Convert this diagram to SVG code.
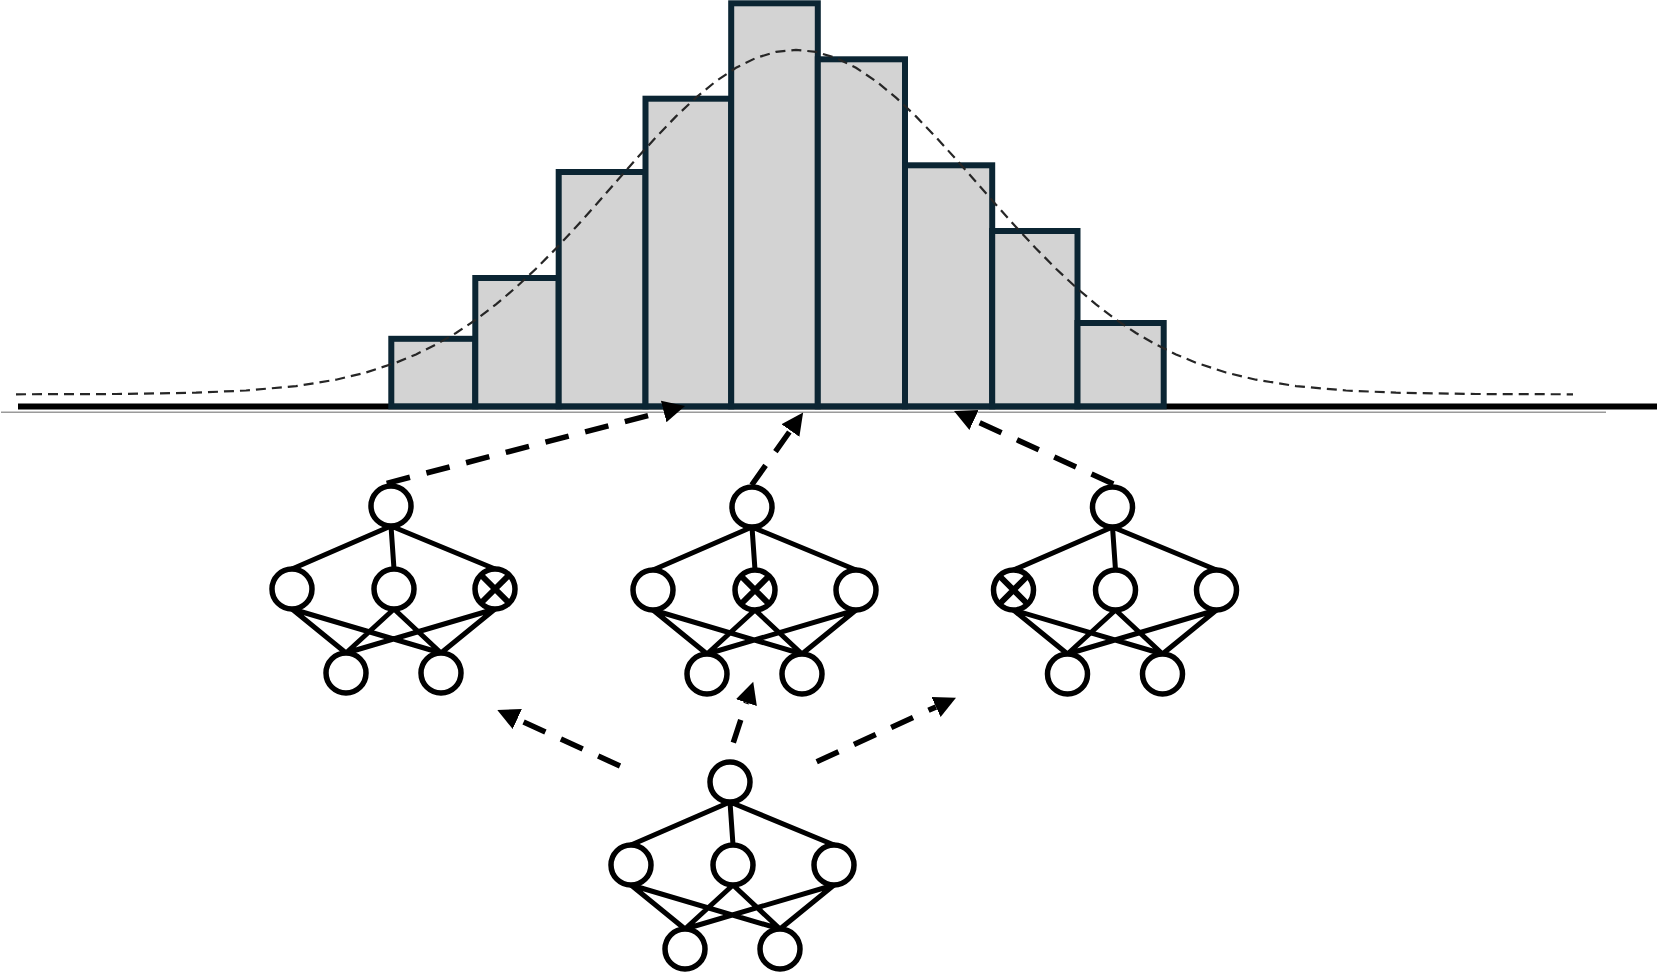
<svg xmlns="http://www.w3.org/2000/svg" width="1661" height="974" viewBox="0 0 1661 974">
<defs>
<style>
.bar{fill:#d3d3d3;stroke:#0b2533;stroke-width:6}
.curve{fill:none;stroke:#262626;stroke-width:2.2;stroke-dasharray:10 6}
.edge{stroke:#000;stroke-width:5;fill:none}
.node{fill:#fff;stroke:#000;stroke-width:5.5}
.x{stroke:#000;stroke-width:6}
.arrow{fill:none;stroke:#000;stroke-width:5.5;stroke-dasharray:24 17;marker-end:url(#ah)}
</style>
<marker id="ah" markerUnits="userSpaceOnUse" markerWidth="24" markerHeight="24" viewBox="0 -12 24 24" refX="0" refY="0" orient="auto">
<path d="M0,-11 L22,0 L0,11 z" fill="#000"/>
</marker>
<g id="netEdges">
<path class="edge" d="M0,20 L-99,63 M0,20 L3,63 M0,20 L104,63 M-99,103 L-45,147 M-99,103 L50,147 M3,103 L-45,147 M3,103 L50,147 M104,103 L-45,147 M104,103 L50,147"/>
</g>
<g id="netNodes">
<circle class="node" cx="0" cy="0" r="20"/>
<circle class="node" cx="-99" cy="83" r="20"/>
<circle class="node" cx="3" cy="83" r="20"/>
<circle class="node" cx="104" cy="83" r="20"/>
<circle class="node" cx="-45" cy="167" r="20"/>
<circle class="node" cx="50" cy="167" r="20"/>
</g>
</defs>
<rect width="1661" height="974" fill="#fff"/>
<g id="axis">
<line x1="18" y1="406.5" x2="1657" y2="406.5" stroke="#000" stroke-width="6"/>
<line x1="1" y1="412.3" x2="1606" y2="412.3" stroke="#9a9a9a" stroke-width="1.5"/>
</g>
<g id="histogram">
<rect class="bar" x="391.3" y="338.8" width="84" height="67.5"/>
<rect class="bar" x="475.3" y="278" width="83.4" height="128.3"/>
<rect class="bar" x="558.7" y="172" width="86.8" height="234.3"/>
<rect class="bar" x="645.5" y="98.7" width="85.7" height="307.6"/>
<rect class="bar" x="731.2" y="3.3" width="86.6" height="403"/>
<rect class="bar" x="817.8" y="59.3" width="87.2" height="347"/>
<rect class="bar" x="905" y="165.3" width="87.2" height="241"/>
<rect class="bar" x="992.2" y="231" width="85.3" height="175.3"/>
<rect class="bar" x="1077.5" y="323" width="86.2" height="83.3"/>
</g>
<g id="distribution-curve">
<path class="curve" d="M16,394.3 L116,394 L196,392.7 L246,390.5 L296,386.1 L336,379.7 L366,372.5 L396,362.7 L416,354.4 L436,344.5 L456,333 L476,319.6 L496,304.4 L516,287.4 L536,268.7 L556,248.5 L576,227 L596,204.7 L616,181.9 L636,159.2 L656,137.2 L676,116.4 L696,97.6 L716,81.2 L736,67.8 L756,57.9 L776,51.9 L796,49.8 L816,51.9 L836,57.9 L856,67.8 L876,81.2 L896,97.6 L916,116.4 L936,137.2 L956,159.2 L976,181.9 L996,204.7 L1016,227 L1036,248.5 L1056,268.7 L1076,287.4 L1096,304.4 L1116,319.6 L1136,333 L1156,344.5 L1176,354.4 L1196,362.7 L1226,372.5 L1256,379.7 L1296,386.1 L1346,390.5 L1396,392.7 L1476,394 L1573,394.3"/>
</g>
<g id="connectors">
<path class="arrow" d="M386.7,483.3 L663.7,411.5"/>
<path class="arrow" d="M751.7,485 L790.4,430.5"/>
<path class="arrow" d="M1113.3,484 L974,420.1"/>
<path class="arrow" d="M620,766 L517.3,719.1"/>
<path class="arrow" d="M733.3,742.7 L746.4,702.6"/>
<path class="arrow" d="M816.7,761.7 L936,706.9"/>
</g>
<g id="network-a" transform="translate(391,506)">
<use href="#netEdges"/>
<use href="#netNodes"/>
<path class="x" d="M89,68 L119,98 M119,68 L89,98"/>
</g>
<g id="network-b" transform="translate(752,507)">
<use href="#netEdges"/>
<use href="#netNodes"/>
<path class="x" d="M-12,68 L18,98 M18,68 L-12,98"/>
</g>
<g id="network-c" transform="translate(1112.5,507)">
<use href="#netEdges"/>
<use href="#netNodes"/>
<path class="x" d="M-114,68 L-84,98 M-84,68 L-114,98"/>
</g>
<g id="network-base" transform="translate(730,782)">
<use href="#netEdges"/>
<use href="#netNodes"/>
</g>
</svg>
